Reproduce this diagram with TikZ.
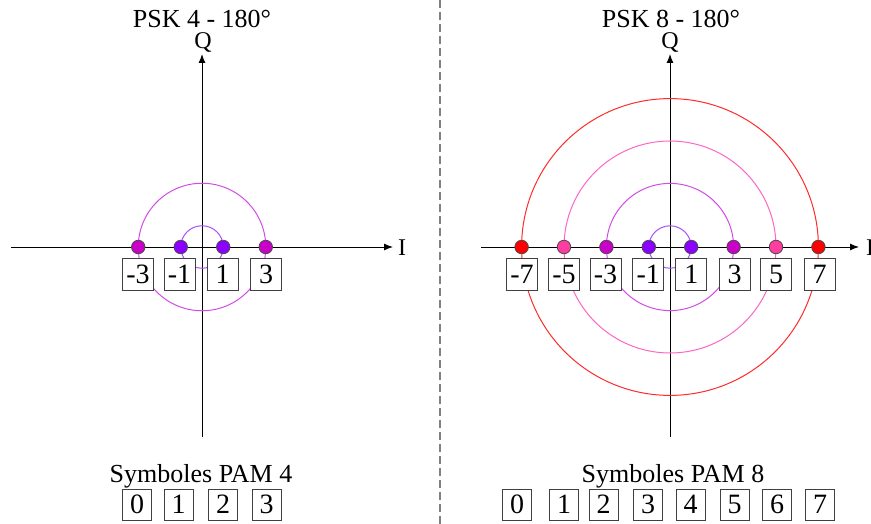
\documentclass[tikz,border=0pt]{standalone}
\usepackage{fontspec}
\setmainfont{Liberation Serif}
\usetikzlibrary{arrows.meta}
\definecolor{dotA}{HTML}{8C00FF}
\definecolor{dotB}{HTML}{C800C8}
\definecolor{dotC}{HTML}{FF3CA0}
\definecolor{dotD}{HTML}{FF0000}
\definecolor{ringA}{HTML}{A850FF}
\definecolor{ringB}{HTML}{D24BE6}
\definecolor{ringC}{HTML}{FF66C4}
\definecolor{ringD}{HTML}{FF2A2A}
\begin{document}
\begin{tikzpicture}[x=1pt,y=-1pt,
  title/.style={inner sep=0pt, anchor=base, font=\fontsize{26}{30}\selectfont},
  axlbl/.style={inner sep=0pt, anchor=base, font=\fontsize{24}{28}\selectfont},
  symbox/.style={draw=black!75, line width=0.8pt, fill=white, minimum width=31pt, minimum height=32pt, inner sep=0pt, font=\fontsize{28}{32}\selectfont},
  palbox/.style={symbox, minimum width=29pt, minimum height=31pt},
  dot/.style={circle, draw=black!70, line width=0.8pt, minimum size=13.5pt, inner sep=0pt},
  axis/.style={line width=1pt, -{Latex[length=9pt,width=7pt]}},
  ring/.style={line width=1pt}]
\useasboundingbox (0,0) rectangle (871,524);

% separator
\coordinate (dtop) at (440,0);
\coordinate (dbot) at (440,524);
\draw[gray, line width=1.3pt, dash pattern=on 8pt off 4pt] (dtop) -- (dbot);

% ---------------- left panel ----------------
\node[title] (Ltitle) at (202,28) {PSK 4 - 180°};
\coordinate (Lc) at (202,247);
\coordinate (Lxw) at (11,247);
\coordinate (Lxe) at (393,247);
\coordinate (Lys) at (202,437);
\coordinate (Lyn) at (202,54);
\draw[axis] (Lxw) -- (Lxe);
\draw[axis] (Lys) -- (Lyn);
\node[axlbl] (LQ) at (203,49) {Q};
\node[axlbl, anchor=base west] (LI) at (398,255) {I};

\draw[ring, ringA] (Lc) circle[radius=21.25pt];
\draw[ring, ringB] (Lc) circle[radius=63.75pt];

\node[symbox] (Lbm3) at (138,274) {-3};
\node[symbox] (Lbm1) at (179.5,274) {-1};
\node[symbox] (Lbp1) at (222.5,274) {1};
\node[symbox] (Lbp3) at (266,274) {3};

\node[dot, fill=dotB] (Ldm3) at (138.25,247) {};
\node[dot, fill=dotA] (Ldm1) at (180.75,247) {};
\node[dot, fill=dotA] (Ldp1) at (223.25,247) {};
\node[dot, fill=dotB] (Ldp3) at (265.75,247) {};

\node[title] (Lsym) at (201,482) {Symboles PAM 4};
\node[palbox] (Ls0) at (137,504.5) {0};
\node[palbox] (Ls1) at (178.5,504.5) {1};
\node[palbox] (Ls2) at (223,504.5) {2};
\node[palbox] (Ls3) at (266.5,504.5) {3};

% ---------------- right panel ----------------
\node[title] (Rtitle) at (671,28) {PSK 8 - 180°};
\coordinate (Rc) at (670,247);
\coordinate (Rxw) at (481,247);
\coordinate (Rxe) at (859,247);
\coordinate (Rys) at (670,437);
\coordinate (Ryn) at (670,54);
\draw[axis] (Rxw) -- (Rxe);
\draw[axis] (Rys) -- (Ryn);
\node[axlbl] (RQ) at (670,49) {Q};
\node[axlbl, anchor=base west] (RI) at (866,255) {I};

\draw[ring, ringA] (Rc) circle[radius=21.2pt];
\draw[ring, ringB] (Rc) circle[radius=63.6pt];
\draw[ring, ringC] (Rc) circle[radius=106pt];
\draw[ring, ringD] (Rc) circle[radius=148.4pt];

\node[symbox] (Rbm7) at (522,274) {-7};
\node[symbox] (Rbm5) at (564,274) {-5};
\node[symbox] (Rbm3) at (605.5,274) {-3};
\node[symbox] (Rbm1) at (648.3,274) {-1};
\node[symbox] (Rbp1) at (691.3,274) {1};
\node[symbox] (Rbp3) at (734.7,274) {3};
\node[symbox] (Rbp5) at (776,274) {5};
\node[symbox] (Rbp7) at (819.5,274) {7};

\node[dot, fill=dotD] (Rdm7) at (521.6,247) {};
\node[dot, fill=dotC] (Rdm5) at (564,247) {};
\node[dot, fill=dotB] (Rdm3) at (606.4,247) {};
\node[dot, fill=dotA] (Rdm1) at (648.8,247) {};
\node[dot, fill=dotA] (Rdp1) at (691.2,247) {};
\node[dot, fill=dotB] (Rdp3) at (733.6,247) {};
\node[dot, fill=dotC] (Rdp5) at (776,247) {};
\node[dot, fill=dotD] (Rdp7) at (818.4,247) {};

\node[title] (Rsym) at (673,482) {Symboles PAM 8};
\node[palbox] (Rs0) at (517,504.5) {0};
\node[palbox] (Rs1) at (564,504.5) {1};
\node[palbox] (Rs2) at (603.5,504.5) {2};
\node[palbox] (Rs3) at (648,504.5) {3};
\node[palbox] (Rs4) at (690.5,504.5) {4};
\node[palbox] (Rs5) at (734.5,504.5) {5};
\node[palbox] (Rs6) at (777,504.5) {6};
\node[palbox] (Rs7) at (820,504.5) {7};
\end{tikzpicture}
\end{document}
